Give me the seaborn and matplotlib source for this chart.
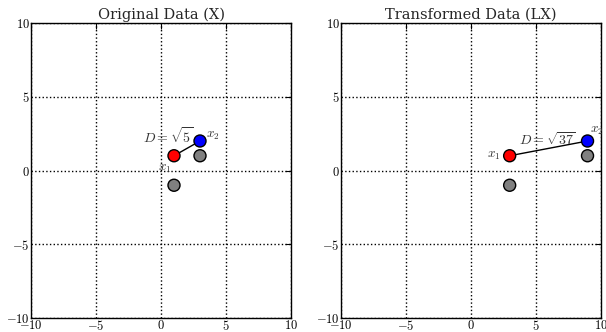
import numpy as np
import pandas as pd
import matplotlib
matplotlib.use("Agg")
import matplotlib.pyplot as plt
import seaborn as sns

sns.set_style("white")
plt.rcParams['font.family'] = ['DejaVu Serif']
plt.rcParams['mathtext.fontset'] = 'cm'

titles = ["Original Data (X)", "Transformed Data (LX)"]
point_names = ["x1", "x2", "g1", "g2"]
point_colors = ["red", "blue", "gray", "gray"]
orig_x = [1, 3, 3, 1]
orig_y = [1, 2, 1, -1]
trans_x = [3, 9, 9, 3]
trans_y = [1, 2, 1, -1]
dist_labels = [r"$D = \sqrt{5}$", r"$D = \sqrt{37}$"]
ticks = [-10, -5, 0, 5, 10]
tick_labels = [r"$-10$", r"$-5$", r"$0$", r"$5$", r"$10$"]

fig = plt.figure(figsize=(6.06, 3.32), dpi=100)
W, H = 606, 332
axes = [fig.add_axes([31 / W, 1 - 318 / H, 260 / W, 295 / H]),
        fig.add_axes([341 / W, 1 - 318 / H, 259.5 / W, 295 / H])]

datasets = [(orig_x, orig_y), (trans_x, trans_y)]
for i, (ax, (xs, ys)) in enumerate(zip(axes, datasets)):
    df = pd.DataFrame({"x": xs, "y": ys, "name": point_names})
    sns.lineplot(x=df["x"][:2], y=df["y"][:2], ax=ax, color="black", lw=1, zorder=2,
                 sort=False, estimator=None)
    sns.scatterplot(data=df, x="x", y="y", hue="name",
                    palette=dict(zip(point_names, point_colors)),
                    s=75, edgecolor="black", linewidth=1, legend=False, ax=ax, zorder=3)
    ax.set_xlim(-10, 10)
    ax.set_ylim(-10, 10)
    ax.set_xticks(ticks)
    ax.set_yticks(ticks)
    ax.set_xticklabels(tick_labels, fontsize=9)
    ax.set_yticklabels(tick_labels, fontsize=9)
    ax.set_xlabel("")
    ax.set_ylabel("")
    ax.grid(True, color="black", linestyle=":", linewidth=1)
    ax.tick_params(direction="in", top=True, right=True, length=4, width=0.8, pad=1,
                   colors="black")
    for sp in ax.spines.values():
        sp.set_color("black")
        sp.set_linewidth(1)
    ax.set_title(titles[i], fontsize=10.5, pad=3)

# annotations
ax = axes[0]
ax.text(0.8, 0.55, r"$x_1$", ha="right", va="top", fontsize=9.5, color="#333333", zorder=5)
ax.text(3.5, 1.95, r"$x_2$", ha="left", va="bottom", fontsize=9.5, color="#333333", zorder=5)
ax.text(2.5, 1.65, dist_labels[0], ha="right", va="bottom", fontsize=10, color="#333333", zorder=5)

ax = axes[1]
ax.text(2.3, 1.0, r"$x_1$", ha="right", va="center", fontsize=9.5, color="#333333", zorder=5)
ax.text(9.2, 2.3, r"$x_2$", ha="left", va="bottom", fontsize=9.5, color="#333333", zorder=5)
ax.text(8.1, 1.55, dist_labels[1], ha="right", va="bottom", fontsize=10, color="#333333", zorder=5)

fig.savefig("out.png", dpi=100)
